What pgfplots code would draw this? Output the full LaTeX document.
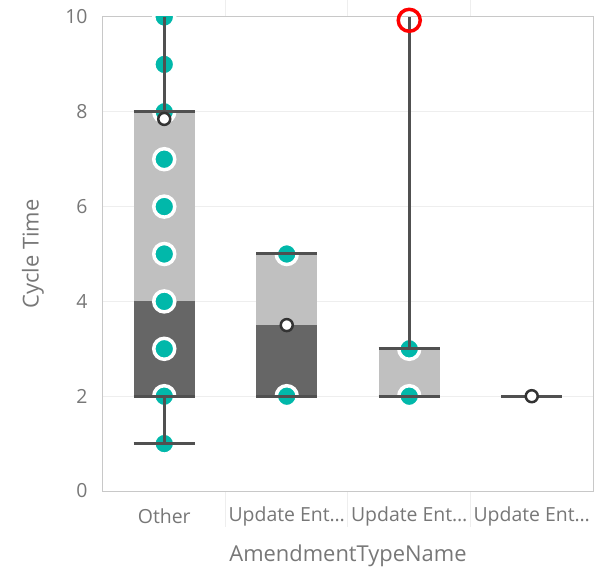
\documentclass[border=0pt]{standalone}
\usepackage{fontspec}
\setmainfont{Open Sans}
\usepackage{pgfplots}
\pgfplotsset{compat=1.18}
\definecolor{tealc}{HTML}{01B8AA}
\definecolor{boxdark}{HTML}{666666}
\definecolor{boxlight}{HTML}{C0C0C0}
\definecolor{capc}{HTML}{505050}
\definecolor{meanc}{HTML}{333333}
\definecolor{txt}{HTML}{777777}
\definecolor{gridc}{HTML}{EEEEEE}
\definecolor{axc}{HTML}{C8C8C8}
\begin{document}
\begin{tikzpicture}
\path[use as bounding box] (-103bp,-80bp) rectangle (504bp,491bp);
\begin{axis}[
  at={(0,0)}, anchor=south west,
  scale only axis, width=490bp, height=474bp,
  xmin=-0.5, xmax=3.5, ymin=0, ymax=10,
  ytick={0,2,4,6,8,10},
  xtick={0,1,2,3},
  xticklabels={Other,Update Ent…,Update Ent…,Update Ent…},
  minor xtick={0.5,1.5,2.5},
  major tick length=0pt, minor tick length=36bp,
  tick align=outside,
  minor tick style={draw=gridc, line width=1bp},
  ymajorgrids, grid style={draw=gridc, line width=1bp},
  axis line style={draw=axc, line width=1bp},
  tick label style={font=\fontsize{19.5}{22}\selectfont, text=txt},
  xticklabel style={anchor=center, yshift=-25bp},
  yticklabel style={anchor=east, xshift=-12bp},
  /pgf/number format/assume math mode=true,
  xlabel={AmendmentTypeName}, ylabel={Cycle Time},
  label style={font=\fontsize{22}{26}\selectfont, text=txt},
  xlabel style={at={(axis description cs:0.5,-0.137)}, anchor=center},
  ylabel style={at={(axis description cs:-0.143,0.5)}, anchor=center},
  clip=true, clip marker paths=true,
]
% boxes: lower (q1 to median) dark, upper (median to q3) light
\addplot[fill=boxdark, draw=none] coordinates {(-0.25,2) (0.25,2) (0.25,4) (-0.25,4)} -- cycle;
\addplot[fill=boxlight, draw=none] coordinates {(-0.25,4) (0.25,4) (0.25,8) (-0.25,8)} -- cycle;
\addplot[fill=boxdark, draw=none] coordinates {(0.75,2) (1.25,2) (1.25,3.5) (0.75,3.5)} -- cycle;
\addplot[fill=boxlight, draw=none] coordinates {(0.75,3.5) (1.25,3.5) (1.25,5) (0.75,5)} -- cycle;
\addplot[fill=boxlight, draw=none] coordinates {(1.75,2) (2.25,2) (2.25,3) (1.75,3)} -- cycle;
% data points
\addplot[only marks, mark=*, mark size=10.5bp, mark options={fill=tealc, draw=white, line width=3.5bp}] coordinates {
 (0,1) (0,2) (0,3) (0,4) (0,5) (0,6) (0,7) (0,8) (0,9) (0,10)
 (1,2) (1,5)
 (2,2) (2,3)
};
% whiskers
\addplot[draw=capc, line width=3bp, unbounded coords=jump] coordinates {
 (0,1) (0,2) (nan,nan) (0,8) (0,10) (nan,nan) (2,3) (2,10)
};
% caps
\addplot[draw=capc, line width=3bp, unbounded coords=jump] coordinates {
 (-0.25,1) (0.25,1) (nan,nan)
 (-0.25,2) (0.25,2) (nan,nan)
 (-0.25,8) (0.25,8) (nan,nan)
 (0.75,2) (1.25,2) (nan,nan)
 (0.75,5) (1.25,5) (nan,nan)
 (1.75,2) (2.25,2) (nan,nan)
 (1.75,3) (2.25,3) (nan,nan)
 (2.75,2) (3.25,2)
};
% means
\addplot[only marks, mark=*, mark size=6bp, mark options={fill=white, draw=meanc, line width=2.5bp}] coordinates {
 (0,7.85) (1,3.5) (3,2)
};
\end{axis}
\begin{axis}[
  at={(0,0)}, anchor=south west,
  scale only axis, width=490bp, height=474bp,
  xmin=-0.5, xmax=3.5, ymin=0, ymax=10,
  hide axis, clip=false,
]
\addplot[only marks, mark=o, mark size=11bp, mark options={draw=red, line width=3.5bp}] coordinates {(2,9.93)};
\end{axis}
\end{tikzpicture}
\end{document}
